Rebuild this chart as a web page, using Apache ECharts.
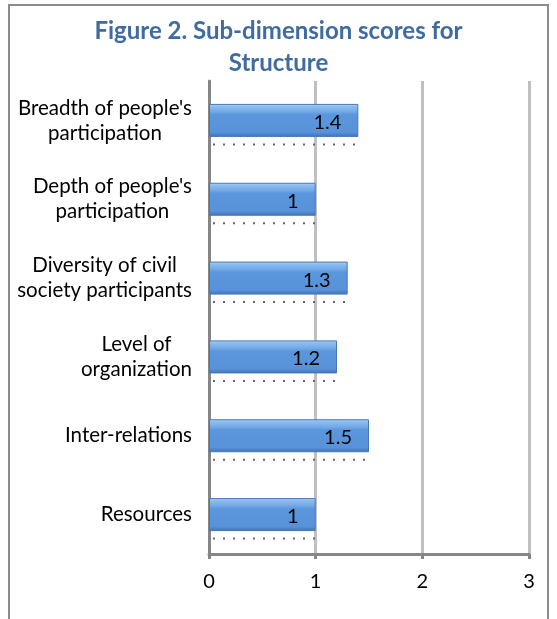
<!DOCTYPE html>
<html>
<head>
<meta charset="utf-8">
<script src="https://cdn.jsdelivr.net/npm/echarts@6/dist/echarts.min.js"></script>
<style>
  html, body { margin: 0; padding: 0; background: #fff; }
  #chart { width: 557px; height: 619px; }
</style>
</head>
<body>
<div id="chart"></div>
<script>
// data
var categories = [
  "Breadth of people's\nparticipation",
  "Depth of people's\nparticipation",
  "Diversity of civil\nsociety participants",
  "Level of\norganization",
  "Inter-relations",
  "Resources"
];
var scores = [1.4, 1, 1.3, 1.2, 1.5, 1];
var xTicks = [0, 1, 2, 3];

var FONT = 'Lato, "Open Sans", sans-serif';

var chart = echarts.init(document.getElementById('chart'));

var option = {
  backgroundColor: '#fff',
  animation: false,
  title: {
    text: 'Figure 2. Sub-dimension scores for\nStructure',
    left: 'center',
    top: 10,
    textStyle: {
      fontFamily: FONT,
      fontSize: 24,
      fontWeight: 'bold',
      color: '#3F6B9F',
      lineHeight: 32
    }
  },
  graphic: [{
    type: 'rect',
    shape: { x: 9, y: 5, width: 539, height: 640 },
    style: { fill: null, stroke: '#8c8c8c', lineWidth: 2 },
    silent: true,
    z: -1
  }],
  grid: { left: 209, right: 28, top: 81, bottom: 65 },
  xAxis: {
    type: 'value',
    min: xTicks[0],
    max: xTicks[xTicks.length - 1],
    interval: 1,
    axisLine: { show: true, lineStyle: { color: '#868686', width: 3 } },
    axisTick: { show: true, length: 5, lineStyle: { color: '#868686', width: 3 } },
    splitLine: { show: true, lineStyle: { color: '#c0c0c0', width: 3 } },
    axisLabel: { fontFamily: FONT, fontSize: 20, color: '#000', margin: 18 }
  },
  yAxis: {
    type: 'category',
    inverse: true,
    data: categories,
    axisLine: { show: true, lineStyle: { color: '#868686', width: 3 } },
    axisTick: { show: false },
    axisLabel: {
      margin: 17,
      align: 'right',
      formatter: function (v) {
        return v.split('\n').map(function (s) { return '{c|' + s + '}'; }).join('\n');
      },
      rich: {
        c: { fontFamily: FONT, fontSize: 20.5, color: '#000', align: 'center', lineHeight: 25 }
      }
    }
  },
  series: [{
    type: 'bar',
    data: scores,
    barWidth: 33,
    z: 3,
    itemStyle: {
      color: new echarts.graphic.LinearGradient(0, 0, 0, 1, [
        { offset: 0, color: '#b3d2f4' },
        { offset: 0.08, color: '#8dbdf0' },
        { offset: 0.25, color: '#6ea6e6' },
        { offset: 0.32, color: '#5b97dd' },
        { offset: 0.86, color: '#5892d9' },
        { offset: 1, color: '#3f72b4' }
      ]),
      borderColor: '#4677b8',
      borderWidth: 1
    },
    label: {
      show: true,
      position: 'insideRight',
      distance: 17,
      offset: [0, 2],
      fontFamily: FONT,
      fontSize: 20,
      color: '#000'
    }
  }, {
    // dotted floor shadow under each bar
    type: 'custom',
    data: scores.map(function (v, i) { return [v, i]; }),
    encode: { x: 0, y: 1 },
    z: 2,
    silent: true,
    renderItem: function (params, api) {
      var a = api.coord([0, api.value(1)]);
      var b = api.coord([api.value(0), api.value(1)]);
      return {
        type: 'line',
        shape: { x1: a[0] + 4, y1: a[1] + 24, x2: b[0], y2: b[1] + 24 },
        style: { stroke: '#666', lineWidth: 2, lineDash: [2, 8] }
      };
    }
  }]
};

chart.setOption(option);
</script>
</body>
</html>
